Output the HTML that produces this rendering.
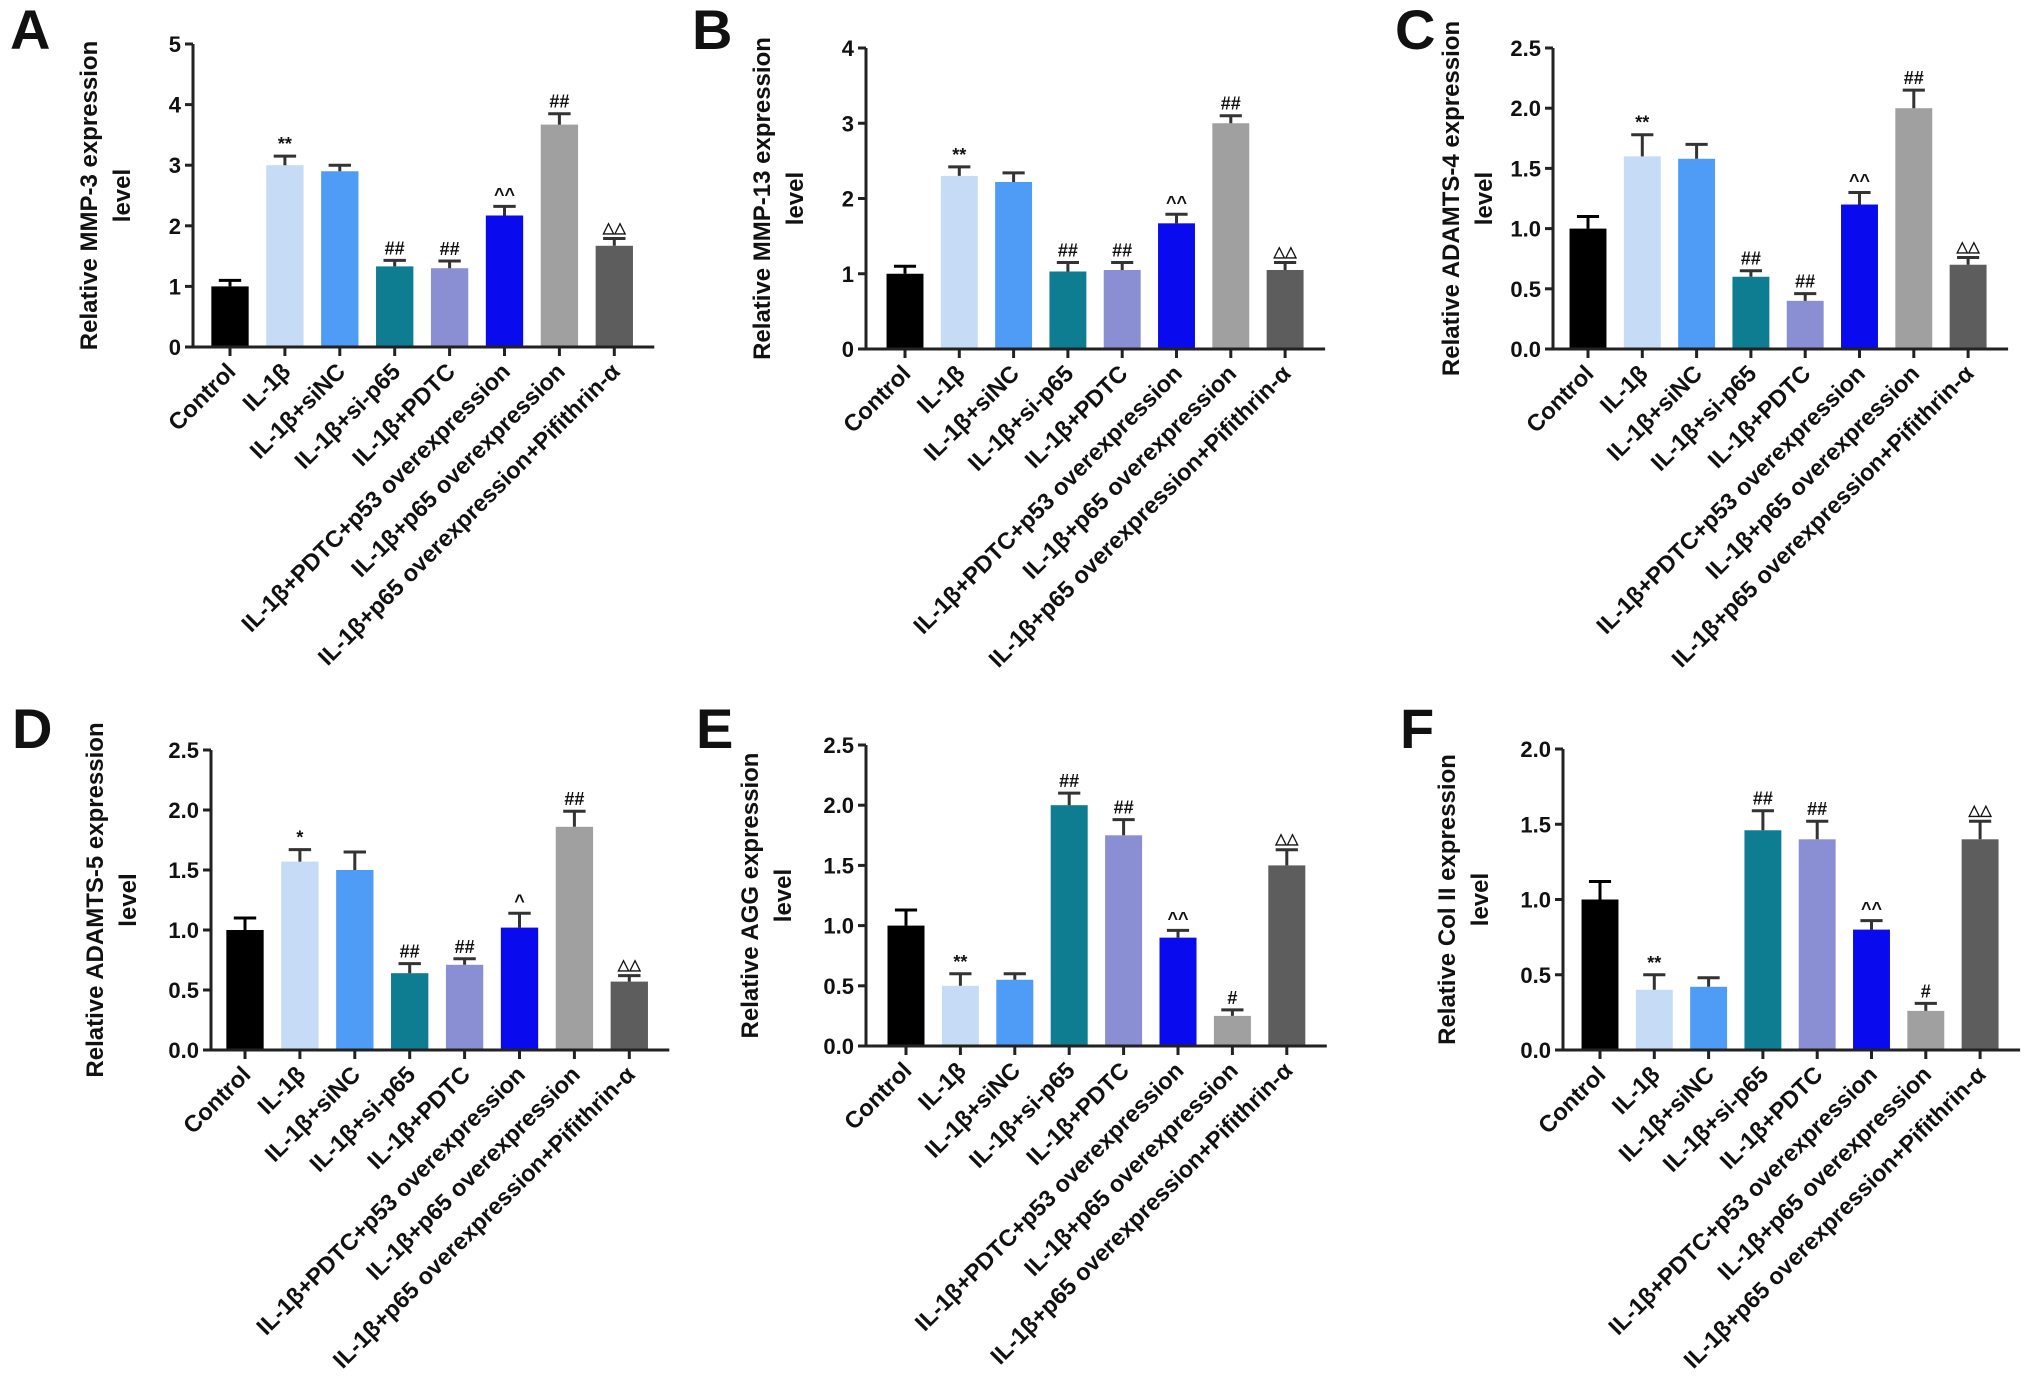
<!DOCTYPE html>
<html><head><meta charset="utf-8">
<style>
html,body{margin:0;padding:0;background:#fff;}
svg text{font-family:"Liberation Sans",Arial,sans-serif;font-weight:bold;fill:#111;}
</style></head>
<body>
<svg id="fig" width="2031" height="1380" viewBox="0 0 2031 1380" xmlns="http://www.w3.org/2000/svg"></svg>
<script>
const categories = ["Control","IL-1β","IL-1β+siNC","IL-1β+si-p65","IL-1β+PDTC","IL-1β+PDTC+p53 overexpression","IL-1β+p65 overexpression","IL-1β+p65 overexpression+Pifithrin-α"];
const barColors = ["#000000","#c6dcf6","#4f9cf6","#0e7d92","#8a8fd3","#0a0aee","#a0a0a0","#5d5d5d"];

const valuesA = [1.0,3.0,2.9,1.33,1.3,2.17,3.67,1.67];
const errorsA = [0.1,0.15,0.1,0.1,0.12,0.15,0.18,0.12];
const marksA = ["","**","","##","##","^^","##","△△"];
const ticksA = ["0","1","2","3","4","5"];

const valuesB = [1.0,2.3,2.22,1.03,1.05,1.67,3.0,1.05];
const errorsB = [0.1,0.12,0.12,0.12,0.1,0.12,0.1,0.1];
const marksB = ["","**","","##","##","^^","##","△△"];
const ticksB = ["0","1","2","3","4"];

const valuesC = [1.0,1.6,1.58,0.6,0.4,1.2,2.0,0.7];
const errorsC = [0.1,0.18,0.12,0.05,0.06,0.1,0.15,0.06];
const marksC = ["","**","","##","##","^^","##","△△"];
const ticksC = ["0.0","0.5","1.0","1.5","2.0","2.5"];

const valuesD = [1.0,1.57,1.5,0.64,0.71,1.02,1.86,0.57];
const errorsD = [0.1,0.1,0.15,0.08,0.05,0.12,0.13,0.05];
const marksD = ["","*","","##","##","^","##","△△"];
const ticksD = ["0.0","0.5","1.0","1.5","2.0","2.5"];

const valuesE = [1.0,0.5,0.55,2.0,1.75,0.9,0.25,1.5];
const errorsE = [0.13,0.1,0.05,0.1,0.13,0.06,0.05,0.13];
const marksE = ["","**","","##","##","^^","#","△△"];
const ticksE = ["0.0","0.5","1.0","1.5","2.0","2.5"];

const valuesF = [1.0,0.4,0.42,1.46,1.4,0.8,0.26,1.4];
const errorsF = [0.12,0.1,0.06,0.13,0.12,0.06,0.05,0.12];
const marksF = ["","**","","##","##","^^","#","△△"];
const ticksF = ["0.0","0.5","1.0","1.5","2.0"];

const NS="http://www.w3.org/2000/svg";
const svg=document.getElementById('fig');
function mk(tag,attrs,parent){const e=document.createElementNS(NS,tag);for(const k in attrs)e.setAttribute(k,attrs[k]);(parent||svg).appendChild(e);return e;}

function panel(letter,title,values,errors,marks,ticks,ax,yTop,yZero,firstX,step,titleOff,lx,ly){
  const g=mk('g',{});
  
  
  const maxV=parseFloat(ticks[ticks.length-1]);
  const y=v=>yZero-(v/maxV)*(yZero-yTop);
  const x=i=>firstX+i*step;
  const bw=step*0.68;
  const L=mk('text',{x:lx,y:ly,'font-size':56},g);L.textContent=letter;
  
  
  values.forEach((v,i)=>{
    const c=barColors[i];
    const r=mk('rect',{x:x(i)-bw/2,y:y(v),width:bw,height:yZero-y(v),fill:c},g);
    
    
    const top=y(v+errors[i]);
    const eb=mk('path',{d:`M${x(i)} ${y(v)}V${top}M${x(i)-bw*0.3} ${top}H${x(i)+bw*0.3}`,stroke:i==0?'#000':'#333',"stroke-width":3,fill:'none'},g);
    
    
    if(marks[i]){
      const t=mk('text',{x:x(i),y:top-6,'font-size':marks[i].includes('△')?15:18,'text-anchor':'middle'},g);t.textContent=marks[i];
      
      
    }
  });
  const xEnd=x(values.length-1)+40;
  const axl=mk('path',{d:`M${ax} ${yTop}V${yZero}H${xEnd}`,stroke:'#222','stroke-width':3,fill:'none'},g);
  
  
  ticks.forEach(tk=>{
    const yy=y(parseFloat(tk));
    mk('line',{x1:ax-8,x2:ax,y1:yy,y2:yy,stroke:'#222','stroke-width':3},g);
    const t=mk('text',{x:ax-12,y:yy+8,'font-size':22,'text-anchor':'end'},g);t.textContent=tk;
    
    
  });
  categories.forEach((c,i)=>{
    mk('line',{x1:x(i),x2:x(i),y1:yZero,y2:yZero+9,stroke:'#222','stroke-width':3},g);
    const t=mk('text',{x:x(i)+7,y:yZero+26,'font-size':23.5,'text-anchor':'end',transform:`rotate(-45 ${x(i)+7} ${yZero+26})`},g);t.textContent=c;
    
    
  });
  const cy=(yTop+yZero)/2, tx=ax-titleOff;
  const yt=mk('text',{x:tx,y:cy,'font-size':24,'text-anchor':'middle',transform:`rotate(-90 ${tx} ${cy})`},g);
  
  
  const t1=mk('tspan',{x:tx,dy:-8},yt);t1.textContent=title;
  const t2=mk('tspan',{x:tx,dy:33},yt);t2.textContent='level';
}

panel('A','Relative MMP-3 expression',valuesA,errorsA,marksA,ticksA,193,44,347,230,54.9,88,10,49);
panel('B','Relative MMP-13 expression',valuesB,errorsB,marksB,ticksB,866,48,349,905,54.3,88,692,49);
panel('C','Relative ADAMTS-4 expression',valuesC,errorsC,marksC,ticksC,1553,48,349,1588,54.3,86,1395,49);
panel('D','Relative ADAMTS-5 expression',valuesD,errorsD,marksD,ticksD,211,750,1050,245,54.9,100,12,748);
panel('E','Relative AGG  expression',valuesE,errorsE,marksE,ticksE,866,745,1046,906,54.4,100,696,748);
panel('F','Relative Col II expression',valuesF,errorsF,marksF,ticksF,1563,749,1050,1600,54.3,100,1400,748);
</script>
</body></html>
